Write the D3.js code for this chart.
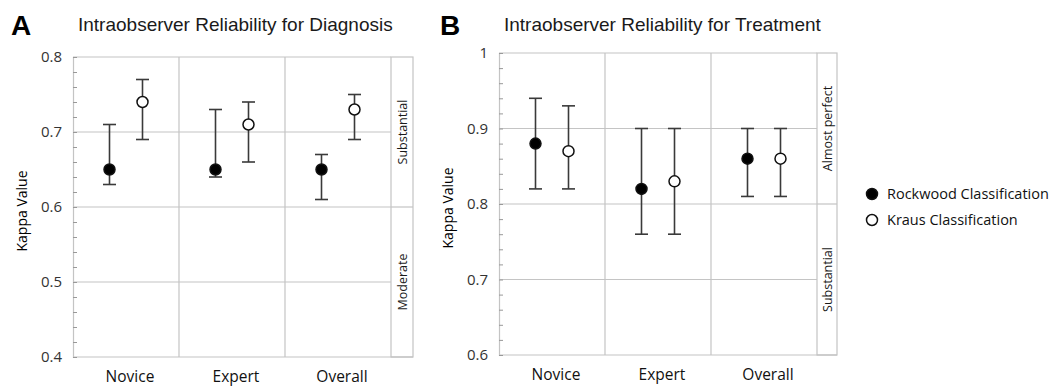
<!DOCTYPE html>
<html><head><meta charset="utf-8">
<script src="https://cdn.jsdelivr.net/npm/d3@7"></script>
<style>body{margin:0;background:#fff;}svg{display:block;font-family:"Open Sans",sans-serif;}</style>
</head><body>
<svg id="c" width="1056" height="387"></svg>
<script>
const categories = ["Novice", "Expert", "Overall"];
const series = ["Rockwood Classification", "Kraus Classification"];
// Panel A: Diagnosis
const diagRockwood = [0.65, 0.65, 0.65];
const diagRockwoodLow = [0.63, 0.64, 0.61];
const diagRockwoodHigh = [0.71, 0.73, 0.67];
const diagKraus = [0.74, 0.71, 0.73];
const diagKrausLow = [0.69, 0.66, 0.69];
const diagKrausHigh = [0.77, 0.74, 0.75];
// Panel B: Treatment
const treatRockwood = [0.88, 0.82, 0.86];
const treatRockwoodLow = [0.82, 0.76, 0.81];
const treatRockwoodHigh = [0.94, 0.90, 0.90];
const treatKraus = [0.87, 0.83, 0.86];
const treatKrausLow = [0.82, 0.76, 0.81];
const treatKrausHigh = [0.93, 0.90, 0.90];
const diagTicks = [0.4, 0.5, 0.6, 0.7, 0.8];
const treatTicks = [0.6, 0.7, 0.8, 0.9, 1];
const diagBands = [{label: "Substantial", from: 0.6, to: 0.8}, {label: "Moderate", from: 0.4, to: 0.6}];
const treatBands = [{label: "Almost perfect", from: 0.8, to: 1.0}, {label: "Substantial", from: 0.6, to: 0.8}];

const svg = d3.select("#c");
const gridColor = "#c4c4c4";
const markColor = "#3a3a3a";

function panel(o) {
  const g = svg.append("g");
  const y = d3.scaleLinear().domain(o.domain).range([o.bottom, o.top]);
  const x = d3.scaleBand().domain(categories).range([o.left, o.right]);
  const sOff = d3.scalePoint().domain(series).range([-16.5, 16.5]);
  g.selectAll(".hg").data(o.ticks).join("line")
    .attr("x1", o.left).attr("x2", o.right)
    .attr("y1", d => y(d)).attr("y2", d => y(d))
    .attr("stroke", gridColor).attr("stroke-width", 1.2);
  g.selectAll(".vg").data(categories.slice(1)).join("line")
    .attr("x1", d => x(d)).attr("x2", d => x(d))
    .attr("y1", o.top).attr("y2", o.bottom)
    .attr("stroke", gridColor).attr("stroke-width", 1.2);
  g.append("rect").attr("x", o.right).attr("y", o.top)
    .attr("width", o.stripW).attr("height", o.bottom - o.top)
    .attr("fill", "none").attr("stroke", gridColor).attr("stroke-width", 1.2);
  g.selectAll(".bd").data(o.bands).join("line")
    .attr("x1", o.right).attr("x2", o.right + o.stripW)
    .attr("y1", d => y(d.from)).attr("y2", d => y(d.from))
    .attr("stroke", gridColor).attr("stroke-width", 1.2);
  g.selectAll(".bl").data(o.bands).join("text")
    .attr("transform", d => `translate(${o.right + o.stripW / 2 + 4.5},${(y(d.from) + y(d.to)) / 2}) rotate(-90)`)
    .attr("text-anchor", "middle").attr("font-size", 12.5).attr("fill", "#1a1a1a")
    .text(d => d.label);
  const minor = d3.range(o.domain[0], o.domain[1] + 1e-9, 0.02);
  g.append("g").attr("transform", `translate(${o.left},0)`)
    .call(d3.axisLeft(y).tickValues(minor).tickSize(-4).tickFormat(""))
    .call(a => a.select(".domain").attr("stroke", gridColor).attr("stroke-width", 1.2))
    .call(a => a.selectAll(".tick line").attr("stroke", "#999"));
  g.append("g").attr("transform", `translate(${o.left},0)`)
    .call(d3.axisLeft(y).tickValues(o.ticks).tickSize(0).tickPadding(11).tickFormat(d => d3.format("")(+d.toFixed(1))))
    .call(a => a.select(".domain").remove())
    .call(a => a.selectAll("text").attr("font-size", 15).attr("fill", "#333").attr("font-family", "Open Sans,sans-serif"));
  g.append("g").attr("transform", `translate(0,${o.bottom})`)
    .call(d3.axisBottom(x).tickSize(0).tickPadding(14))
    .call(a => a.select(".domain").remove())
    .call(a => a.selectAll("text").attr("font-size", 15.5).attr("fill", "#111").attr("dx", 4).attr("font-family", "Open Sans,sans-serif"));
  g.append("text").attr("transform", `translate(${o.left - 46},${(o.top + o.bottom) / 2 + 4}) rotate(-90)`)
    .attr("text-anchor", "middle").attr("font-size", 14).attr("fill", "#000").text("Kappa Value");
  g.append("text").attr("x", o.letterX).attr("y", 35).attr("font-size", 28).attr("font-weight", "bold")
    .attr("font-family", "Liberation Sans, Arial, sans-serif").text(o.letter);
  g.append("text").attr("x", o.left + 5).attr("y", 31).attr("font-size", 19).attr("fill", "#1a1a1a")
    .attr("font-family", "Liberation Sans, Arial, sans-serif").text(o.title);
  const data = [];
  categories.forEach((c, i) => {
    data.push({c, s: series[0], v: o.rock[i], lo: o.rockLo[i], hi: o.rockHi[i]});
    data.push({c, s: series[1], v: o.kraus[i], lo: o.krausLo[i], hi: o.krausHi[i]});
  });
  const cx = d => x(d.c) + x.bandwidth() / 2 + sOff(d.s);
  const eg = g.selectAll(".pt").data(data).join("g");
  eg.append("line").attr("x1", cx).attr("x2", cx).attr("y1", d => y(d.lo)).attr("y2", d => y(d.hi))
    .attr("stroke", markColor).attr("stroke-width", 1.6);
  ["lo", "hi"].forEach(k => {
    eg.append("line").attr("x1", d => cx(d) - 6.5).attr("x2", d => cx(d) + 6.5)
      .attr("y1", d => y(d[k])).attr("y2", d => y(d[k]))
      .attr("stroke", markColor).attr("stroke-width", 1.6);
  });
  eg.append("circle").attr("cx", cx).attr("cy", d => y(d.v)).attr("r", 5.5)
    .attr("fill", d => d.s === series[0] ? "#000" : "#fff")
    .attr("stroke", "#111").attr("stroke-width", 1.5);
}

panel({domain: [0.4, 0.8], top: 57, bottom: 357, left: 73, right: 391, stripW: 22,
  ticks: diagTicks, bands: diagBands, letter: "A", letterX: 11,
  title: "Intraobserver Reliability for Diagnosis",
  rock: diagRockwood, rockLo: diagRockwoodLow, rockHi: diagRockwoodHigh,
  kraus: diagKraus, krausLo: diagKrausLow, krausHi: diagKrausHigh});
panel({domain: [0.6, 1.0], top: 53, bottom: 355, left: 499, right: 817, stripW: 20,
  ticks: treatTicks, bands: treatBands, letter: "B", letterX: 440,
  title: "Intraobserver Reliability for Treatment",
  rock: treatRockwood, rockLo: treatRockwoodLow, rockHi: treatRockwoodHigh,
  kraus: treatKraus, krausLo: treatKrausLow, krausHi: treatKrausHigh});

const lg = svg.append("g").attr("transform", "translate(872,194)");
const li = lg.selectAll("g").data(series).join("g").attr("transform", (d, i) => `translate(0,${i * 26})`);
li.append("circle").attr("r", 5.5).attr("fill", (d, i) => i === 0 ? "#000" : "#fff").attr("stroke", "#111").attr("stroke-width", 1.5);
li.append("text").attr("x", 15).attr("dy", "0.36em").attr("font-size", 14.5).attr("fill", "#111").text(d => d);
</script>
</body></html>
